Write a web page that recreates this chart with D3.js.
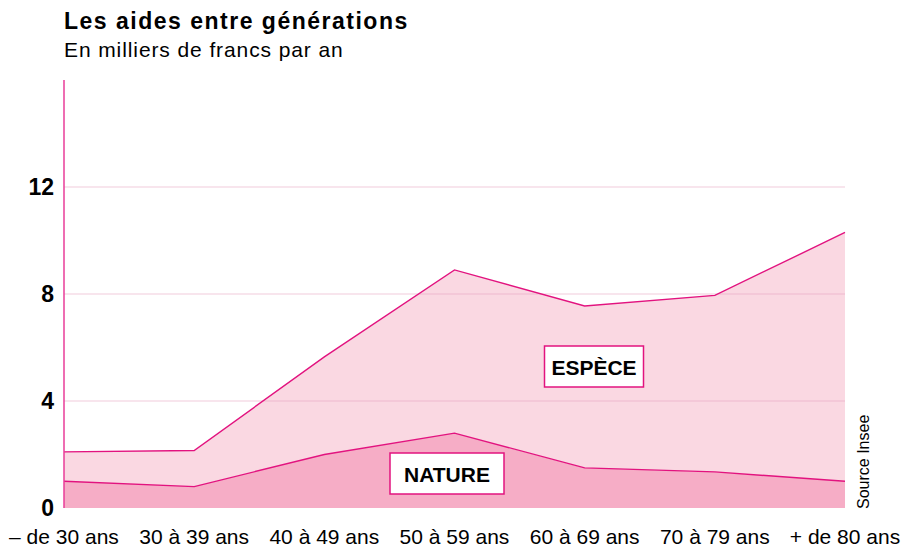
<!DOCTYPE html>
<html>
<head>
    <meta charset="utf-8">
    <style>
        body { margin: 0; background: white; }
        svg { font-family: 'Liberation Sans', Arial, sans-serif; }
        .titre { font-size: 23px; font-weight: bold; letter-spacing: 1.5px; }
        .sous-titre { font-size: 21px; letter-spacing: 0.9px; }
        .tick-y { font-size: 23px; font-weight: bold; }
        .tick-x { font-size: 21px; }
    </style>
</head>
<body>
<svg id="chart" width="905" height="548"></svg>

<script src="https://d3js.org/d3.v7.min.js"></script>
<script>
    // données (milliers de francs par an)
    let ages = ["– de 30 ans", "30 à 39 ans", "40 à 49 ans", "50 à 59 ans", "60 à 69 ans", "70 à 79 ans", "+ de 80 ans"]
    let nature = [1.0, 0.8, 2.0, 2.8, 1.5, 1.35, 1.0]
    let espece = [1.1, 1.35, 3.65, 6.1, 6.05, 6.6, 9.3]
    let yTicks = [0, 4, 8, 12]

    let svg = d3.select("#chart")

    let x = d3.scalePoint()
        .domain(ages)
        .range([64, 845])

    let y = d3.scaleLinear()
        .domain([0, 16])
        .range([508, 80])

    let rows = ages.map((a, i) => ({age: a, nature: nature[i], espece: espece[i]}))
    let stack = d3.stack().keys(["nature", "espece"])(rows)

    let area = d3.area()
        .x(d => x(d.data.age))
        .y0(d => y(d[0]))
        .y1(d => y(d[1]))

    let line = d3.line()
        .x(d => x(d.data.age))
        .y(d => y(d[1]))

    let fills = ["#f6adc6", "#fad8e2"]

    svg.append("g")
        .selectAll("path")
        .data(stack)
        .join("path")
        .attr("d", area)
        .attr("fill", (d, i) => fills[i])

    // grille
    svg.append("g")
        .selectAll("line")
        .data(yTicks.filter(d => d > 0))
        .join("line")
        .attr("x1", 64)
        .attr("x2", 845)
        .attr("y1", d => y(d))
        .attr("y2", d => y(d))
        .attr("stroke", "#e8a0bd")
        .attr("stroke-opacity", 0.55)
        .attr("stroke-width", 1)

    svg.append("g")
        .selectAll("path")
        .data(stack)
        .join("path")
        .attr("d", line)
        .attr("fill", "none")
        .attr("stroke", "#e2137f")
        .attr("stroke-width", 1.4)

    // axe vertical
    svg.append("line")
        .attr("x1", 64).attr("x2", 64)
        .attr("y1", y(16)).attr("y2", y(0))
        .attr("stroke", "#e83c98")
        .attr("stroke-width", 1.5)

    svg.append("g")
        .selectAll("text")
        .data(yTicks)
        .join("text")
        .attr("class", "tick-y")
        .attr("x", 54)
        .attr("y", d => y(d) + 8)
        .attr("text-anchor", "end")
        .text(d => d)

    svg.append("g")
        .selectAll("text")
        .data(ages)
        .join("text")
        .attr("class", "tick-x")
        .attr("x", d => x(d))
        .attr("y", 544)
        .attr("text-anchor", "middle")
        .text(d => d)

    // étiquettes
    let labels = [
        {txt: "ESPÈCE", cx: 594, cy: 367, w: 99},
        {txt: "NATURE", cx: 447, cy: 474, w: 114}
    ]
    let lab = svg.append("g").selectAll("g").data(labels).join("g")
    lab.append("rect")
        .attr("x", d => d.cx - d.w / 2)
        .attr("y", d => d.cy - 21)
        .attr("width", d => d.w)
        .attr("height", 41)
        .attr("fill", "white")
        .attr("stroke", "#e2137f")
        .attr("stroke-width", 1.5)
    lab.append("text")
        .attr("x", d => d.cx)
        .attr("y", d => d.cy + 8)
        .attr("text-anchor", "middle")
        .attr("font-size", 21)
        .attr("font-weight", "bold")
        .text(d => d.txt)

    svg.append("text")
        .attr("class", "titre")
        .attr("x", 64).attr("y", 29)
        .text("Les aides entre générations")
    svg.append("text")
        .attr("class", "sous-titre")
        .attr("x", 64).attr("y", 57)
        .text("En milliers de francs par an")

    svg.append("text")
        .attr("transform", "translate(869,509) rotate(-90)")
        .attr("font-size", 16)
        .text("Source Insee")
</script>
</body>
</html>
